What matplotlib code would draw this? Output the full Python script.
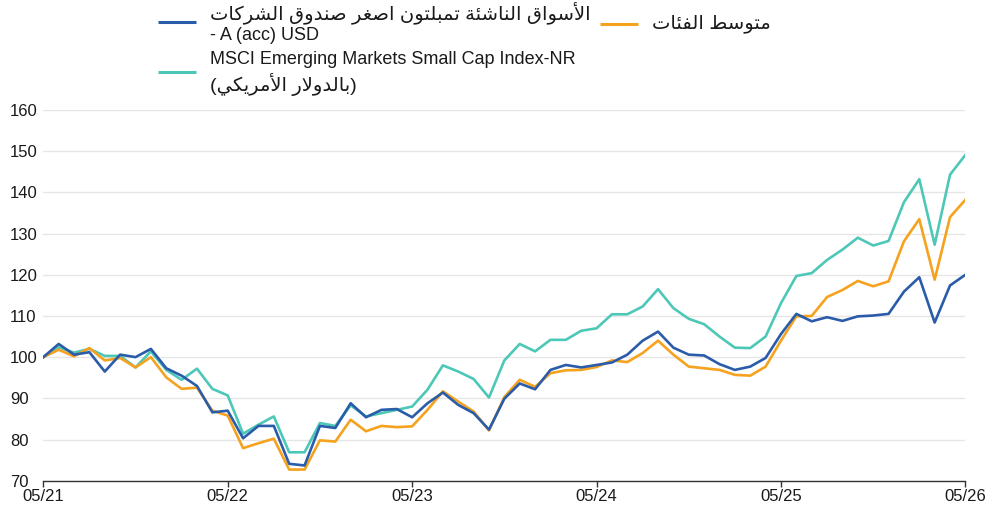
#!/usr/bin/env python3
"""
plot.py

Growth of 100 - fund vs. category average vs. MSCI EM Small Cap index,
monthly, 05/21 to 05/26. Saves out.png.
"""

import matplotlib
matplotlib.use("Agg")

import matplotlib.pyplot as plt
from matplotlib.lines import Line2D

# ============================================================
# DATA
# ============================================================

TICK_LABELS = ["05/21", "05/22", "05/23", "05/24", "05/25", "05/26"]
TICK_MONTHS = [0, 12, 24, 36, 48, 60]

FUND = [
    100, 103.2, 100.6, 101.2, 96.5, 100.6, 100.0, 102.0, 97.3, 95.5,
    93.0, 86.6, 87.0, 80.3, 83.3, 83.3, 74.1, 73.7, 83.3, 82.8,
    88.8, 85.4, 87.2, 87.4, 85.4, 88.8, 91.4, 88.4, 86.4, 82.4,
    89.9, 93.6, 92.2, 96.9, 98.1, 97.5, 98.1, 98.7, 100.6, 104.0,
    106.2, 102.3, 100.6, 100.4, 98.3, 96.9, 97.7, 99.8, 105.6, 110.5,
    108.7, 109.7, 108.8, 109.9, 110.1, 110.5, 115.9, 119.4, 108.4, 117.4,
    120.0,
]

CATEGORY = [
    100, 101.8, 100.2, 102.2, 99.2, 99.8, 97.5, 100.0, 95.1, 92.3,
    92.6, 87.0, 85.8, 77.9, 79.1, 80.2, 72.7, 72.7, 79.8, 79.5,
    84.8, 82.0, 83.3, 83.0, 83.2, 87.2, 91.7, 89.2, 86.8, 82.2,
    90.3, 94.5, 92.8, 96.1, 96.8, 96.9, 97.6, 99.2, 98.8, 101.0,
    104.0, 100.6, 97.7, 97.3, 96.9, 95.7, 95.5, 97.7, 104.0, 109.9,
    110.0, 114.6, 116.3, 118.5, 117.2, 118.4, 128.1, 133.5, 118.8, 134.0,
    138.2,
]

INDEX = [
    100, 102.4, 101.1, 102.0, 100.3, 100.3, 97.5, 101.4, 96.9, 94.5,
    97.2, 92.3, 90.7, 81.4, 83.6, 85.6, 76.9, 76.9, 84.0, 83.3,
    88.3, 85.6, 86.4, 87.2, 88.0, 92.1, 98.0, 96.5, 94.7, 90.2,
    99.2, 103.2, 101.4, 104.2, 104.2, 106.4, 107.0, 110.4, 110.4, 112.3,
    116.5, 111.9, 109.3, 108.0, 105.0, 102.3, 102.2, 105.0, 113.1, 119.7,
    120.4, 123.6, 126.1, 129.0, 127.1, 128.2, 137.6, 143.2, 127.3, 144.3,
    149.1,
]

FUND_LABEL = ["الأسواق الناشئة تمبلتون اصغر صندوق الشركات", "- A (acc) USD"]
CATEGORY_LABEL = ["متوسط الفئات"]
INDEX_LABEL = ["MSCI Emerging Markets Small Cap Index-NR", "(بالدولار الأمريكي)"]

Y_TICKS = [70, 80, 90, 100, 110, 120, 130, 140, 150, 160]

# ============================================================
# STYLE
# ============================================================

BLUE = "#2a5caa"
ORANGE = "#f5a21e"
TEAL = "#4dc7b7"

W, H = 1003, 511
FONT = ["Liberation Sans", "DejaVu Sans"]

plt.rcParams["font.family"] = FONT

# ============================================================
# ARABIC SHAPING (matplotlib has no text shaping of its own)
# ============================================================

# first presentation form (isolated); then final, initial, medial
FORMS = {
    "ا": 0xFE8D, "أ": 0xFE83, "ب": 0xFE8F, "ة": 0xFE93, "ت": 0xFE95,
    "د": 0xFEA9, "ر": 0xFEAD, "س": 0xFEB1, "ش": 0xFEB5, "ص": 0xFEB9,
    "ط": 0xFEC1, "غ": 0xFECD, "ف": 0xFED1, "ق": 0xFED5, "ك": 0xFED9,
    "ل": 0xFEDD, "م": 0xFEE1, "ن": 0xFEE5, "و": 0xFEED, "ي": 0xFEF1,
    "ئ": 0xFE89,
}
RIGHT_ONLY = set("اأةدرو")
LAM_ALEF = {"ا": 0xFEFB, "أ": 0xFEF7}


def shape_word(word):

    out = []
    i = 0
    n = len(word)

    while i < n:
        c = word[i]
        prev_join = i > 0 and word[i - 1] in FORMS and word[i - 1] not in RIGHT_ONLY

        if c == "ل" and i + 1 < n and word[i + 1] in LAM_ALEF:
            out.append(chr(LAM_ALEF[word[i + 1]] + (1 if prev_join else 0)))
            i += 2
            continue

        base = FORMS[c]
        if c in RIGHT_ONLY:
            out.append(chr(base + (1 if prev_join else 0)))
        else:
            next_join = i + 1 < n and word[i + 1] in FORMS
            idx = {(False, False): 0, (True, False): 1,
                   (False, True): 2, (True, True): 3}[(prev_join, next_join)]
            out.append(chr(base + idx))
        i += 1

    return "".join(reversed(out))


def is_arabic(line):
    return any(ch in FORMS for ch in line)


def arabic_line(line):

    # whole line is one right-to-left run, brackets stay at the outer edges
    if not is_arabic(line):
        return line

    lead = ""
    tail = ""
    if line.startswith("("):
        lead, line = "(", line[1:]
    if line.endswith(")"):
        tail, line = ")", line[:-1]

    words = [shape_word(w) for w in line.split(" ")]

    return lead + " ".join(reversed(words)) + tail


# ============================================================
# HELPERS
# ============================================================

def fx(x):
    return x / W


def fy(y):
    return 1 - y / H


def legend_entry(fig, color, x0, x1, y_line, x_text, lines, y_lines):

    fig.add_artist(Line2D([fx(x0), fx(x1)], [fy(y_line), fy(y_line)],
                          transform=fig.transFigure, color=color, lw=2.2,
                          solid_capstyle="butt"))

    for text, y in zip(lines, y_lines):
        size = 14 if is_arabic(text) else 13
        fig.text(fx(x_text), fy(y), arabic_line(text), fontsize=size,
                 color="#1a1a1a", ha="left", va="center", family=FONT)


# ============================================================
# PLOT
# ============================================================

def main():

    fig = plt.figure(figsize=(W / 100, H / 100), dpi=100)

    left, right, top, bottom = 43.3, 965.4, 110.0, 480.7
    ax = fig.add_axes([fx(left), fy(bottom), fx(right - left), (bottom - top) / H])

    months = list(range(len(FUND)))

    ax.plot(months, INDEX, color=TEAL, lw=1.9, zorder=3)
    ax.plot(months, CATEGORY, color=ORANGE, lw=1.9, zorder=4)
    ax.plot(months, FUND, color=BLUE, lw=1.9, zorder=5)

    ax.set_xlim(0, 60)
    ax.set_ylim(70, 160)

    ax.set_xticks(TICK_MONTHS)
    ax.set_xticklabels(TICK_LABELS)
    ax.set_yticks(Y_TICKS)
    ax.set_yticklabels([str(v) for v in Y_TICKS])

    for lab in ax.get_yticklabels():
        lab.set_horizontalalignment("left")

    ax.tick_params(axis="y", length=0, pad=23.8, labelsize=12, labelcolor="#1a1a1a")
    ax.tick_params(axis="x", length=4, width=1, color="#333333", pad=2,
                   labelsize=12, labelcolor="#1a1a1a")

    ax.grid(axis="y", color="#e6e6e6", lw=1)
    ax.set_axisbelow(True)

    for side in ["left", "right", "top"]:
        ax.spines[side].set_visible(False)
    ax.spines["bottom"].set_color("#333333")
    ax.spines["bottom"].set_linewidth(1)
    ax.spines["bottom"].set_zorder(6)

    # legend, drawn by hand to match the two-column header
    legend_entry(fig, BLUE, 158, 196, 22, 210, FUND_LABEL, [13, 36])
    legend_entry(fig, TEAL, 158, 196, 72, 210, INDEX_LABEL, [60, 84])
    legend_entry(fig, ORANGE, 600, 638, 24, 652, CATEGORY_LABEL, [24])

    fig.savefig("out.png", dpi=100)
    plt.close(fig)


if __name__ == "__main__":
    main()
